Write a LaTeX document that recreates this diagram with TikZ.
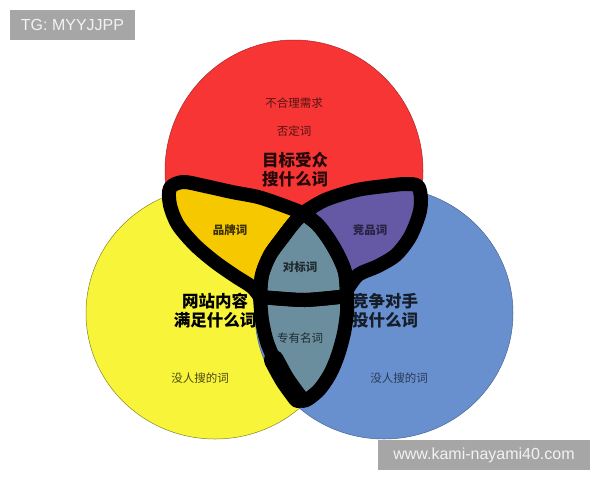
\documentclass[tikz,border=0pt]{standalone}
\usepackage{fontspec}
\setmainfont{Liberation Sans}
\newfontfamily\cjk{Noto Sans CJK SC}
\definecolor{vennred}{HTML}{F73535}
\definecolor{vennyellow}{HTML}{F8F43A}
\definecolor{vennblue}{HTML}{6890CF}
\definecolor{brandgold}{HTML}{F5C800}
\definecolor{rivalpurple}{HTML}{6558A5}
\definecolor{benchgray}{HTML}{6A8E9E}
\definecolor{markgray}{HTML}{A6A6A6}

\begin{document}
\begin{tikzpicture}[x=1pt,y=-1pt]
		\tikzset{
			small word/.style=
			{font=\cjk\fontsize{11.5}{13}\selectfont, inner sep=0pt},
			lobe word/.style=
			{font=\cjk\bfseries\fontsize{11.5}{13}\selectfont, inner sep=0pt},
			main word/.style=
			{font=\cjk\bfseries\fontsize{16.5}{19}\selectfont, align=center, inner sep=0pt},
			pen/.style=
			{draw=black, line width=14pt, line join=round, line cap=round},
			mark box/.style=
			{fill=markgray, text=white!95!black, font=\fontsize{16}{18}\selectfont, inner sep=0pt, minimum height=30pt},
		}
		\useasboundingbox (0,0) rectangle (600,480);
		\fill[white] (0,0) rectangle (600,480);
		\begin{scope}[line width=.5pt]
		\filldraw[fill=vennred, draw=vennred!70!black] (294,171) ellipse [x radius=129, y radius=131];
		\filldraw[fill=vennyellow, draw=vennyellow!55!black] (215,313) ellipse [x radius=129, y radius=126];
		\filldraw[fill=vennblue, draw=vennblue!70!black] (384,313) ellipse [x radius=129, y radius=126];
		\end{scope}
		\node[small word, text=vennred!35!black] (unreasonable) at (294,103) {不合理需求};
		\node[small word, text=vennred!35!black] (negative) at (294,131) {否定词};
		\node[main word, text=vennred!15!black] (audience) at (295,170) {目标受众\\搜什么词};
		\node[main word, text=black] (content) at (215,311) {网站内容\\满足什么词};
		\node[main word, text=vennblue!20!black] (rival) at (385,311) {竞争对手\\投什么词};
		\node[small word, text=vennyellow!30!black] (noneleft) at (200,378) {没人搜的词};
		\node[small word, text=vennblue!40!black] (noneright) at (399,378) {没人搜的词};
		\begin{scope}
		\path[save path=\brandlobe] plot[smooth] coordinates {(303,213) (282,205) (258,197) (232,192) (205,186) (183,182) (170,188) (170,205) (178,225) (195,245) (215,262) (235,276) (252,287) (260,297)}
			-- plot[smooth] coordinates {(260,297) (262,275) (270,255) (283,237) (293,224) (303,213)} -- cycle;
		\path[save path=\rivallobe] plot[smooth] coordinates {(303,213) (325,200) (357,190) (385,186) (405,184) (418,186) (421,200) (419,215) (410,237) (396,255) (378,266) (358,275) (347,290)}
			-- plot[smooth] coordinates {(347,290) (345,272) (338,255) (328,238) (317,224) (303,213)} -- cycle;
		\path[save path=\benchlobe] plot[smooth] coordinates {(303,213) (293,224) (283,237) (270,255) (262,275) (260,297)}
			-- plot[smooth] coordinates {(260,297) (285,299) (305,300) (330,298) (347,296)}
			-- plot[smooth] coordinates {(347,296) (345,272) (338,255) (328,238) (317,224) (303,213)} -- cycle;
		\path[save path=\properlobe] plot[smooth] coordinates {(260,297) (262,320) (267,342) (276,363) (289,385) (302,401) (318,391) (330,374) (338,355) (344,333) (347,312) (347,296)}
			-- plot[smooth] coordinates {(347,296) (330,298) (305,300) (285,299) (260,297)} -- cycle;
		\fill[brandgold, use path=\brandlobe];
		\fill[rivalpurple, use path=\rivallobe];
		\fill[benchgray, use path=\benchlobe];
		\fill[benchgray, use path=\properlobe];
		\end{scope}
		\node[lobe word, text=brandgold!25!black] (brand) at (230,230) {品牌词};
		\node[lobe word, text=rivalpurple!40!black] (compete) at (370,230) {竞品词};
		\node[lobe word, text=benchgray!30!black] (bench) at (300,267) {对标词};
		\node[small word, text=benchgray!30!black] (proper) at (300,338) {专有名词};
		\draw[pen, use path=\brandlobe];
		\draw[pen, use path=\rivallobe];
		\draw[pen, use path=\benchlobe];
		\draw[pen, use path=\properlobe];
		\draw[pen, line width=20pt] plot[smooth] coordinates {(274,360) (285,380) (298,398)};
		\node[mark box, minimum width=125pt] (tg) at (72.5,25) {TG: MYYJJPP};
		\node[mark box, minimum width=212pt] (site) at (484,455) {www.kami-nayami40.com};
\end{tikzpicture}
\end{document}
